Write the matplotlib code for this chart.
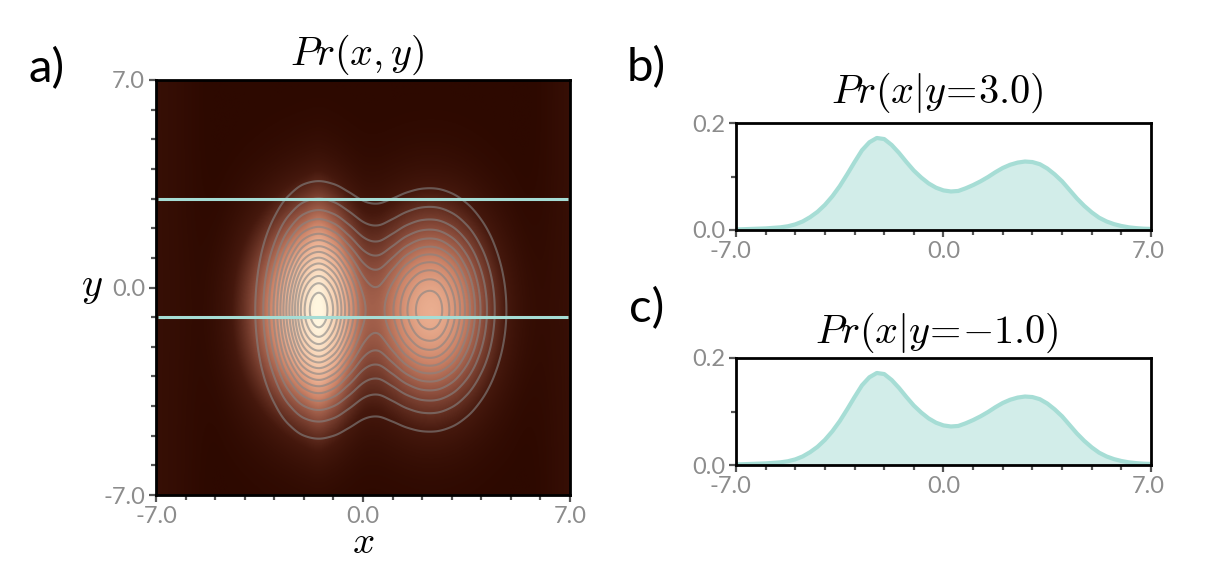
import numpy as np
import matplotlib
matplotlib.use("Agg")
import matplotlib.pyplot as plt
from matplotlib.colors import LinearSegmentedColormap
from matplotlib.transforms import ScaledTranslation

plt.rcParams["mathtext.fontset"] = "cm"
plt.rcParams["font.family"] = ["Lato", "DejaVu Sans"]

# sample positions of the panel a profiles, -7 to 7 in steps of 0.5
grid = [-7.0, -6.5, -6.0, -5.5, -5.0, -4.5, -4.0, -3.5, -3.0, -2.5, -2.0, -1.5, -1.0, -0.5, 0.0,
        0.5, 1.0, 1.5, 2.0, 2.5, 3.0, 3.5, 4.0, 4.5, 5.0, 5.5, 6.0, 6.5, 7.0]

left_x = [0, 0, 0, 0, 0.0006, 0.0043, 0.0235, 0.093, 0.269, 0.569, 0.881, 0.998, 0.86, 0.576, 0.301,
          0.122, 0.039, 0.0096, 0.0018, 0.0003, 0, 0, 0, 0, 0, 0, 0, 0, 0]
right_x = [0, 0, 0, 0, 0, 0, 0, 0, 0.0003, 0.0012, 0.0047, 0.0153, 0.043, 0.105, 0.22,
           0.398, 0.622, 0.84, 0.979, 0.98, 0.821, 0.571, 0.33, 0.158, 0.063, 0.021, 0.0058, 0.0013, 0.0002]
lobe_y = [0.0034, 0.0081, 0.018, 0.0375, 0.072, 0.13, 0.216, 0.334, 0.48, 0.643, 0.799, 0.923, 0.992, 0.99, 0.919,
          0.793, 0.636, 0.474, 0.329, 0.212, 0.127, 0.071, 0.0365, 0.0176, 0.0078, 0.0032, 0.0012, 0.0004, 0.0001]
left_height = 1.0
right_height = 0.75
contour_step = 0.064
contour_count = 15

# heat map
image_left_x = [0.0003, 0.002, 0.006, 0.015, 0.05, 0.11, 0.21, 0.34, 0.5, 0.68, 0.86, 1.0, 0.78, 0.46, 0.2,
                0.07, 0.02, 0.005, 0, 0, 0, 0, 0, 0, 0, 0, 0, 0, 0]
image_right_x = [0, 0, 0, 0, 0, 0.0005, 0.001, 0.002, 0.004, 0.007, 0.012, 0.032, 0.075, 0.155, 0.284,
                 0.462, 0.669, 0.859, 0.979, 0.99, 0.89, 0.71, 0.502, 0.316, 0.176, 0.087, 0.038, 0.015, 0.005]
image_y = [0.027, 0.046, 0.078, 0.125, 0.19, 0.275, 0.38, 0.503, 0.633, 0.761, 0.873, 0.955, 0.996, 0.99, 0.94,
           0.853, 0.737, 0.607, 0.477, 0.358, 0.256, 0.175, 0.114, 0.071, 0.042, 0.024, 0.013, 0.007, 0.003]
image_left_height = 1.0
image_right_height = 0.6
edge_glow = [0.05, 0.04, 0.025, 0.01, 0.0, 0, 0, 0, 0, 0, 0, 0, 0, 0, 0,
             0, 0, 0, 0, 0, 0, 0, 0, 0, 0, 0.0, 0.01, 0.03, 0.05]

# panels b and c
curve_x = [-7.0, -6.75, -6.5, -6.25, -6.0, -5.75, -5.5, -5.25, -5.0, -4.75, -4.5, -4.25, -4.0, -3.75, -3.5,
           -3.25, -3.0, -2.75, -2.5, -2.25, -2.0, -1.75, -1.5, -1.25, -1.0, -0.75, -0.5, -0.25, 0.0,
           0.25, 0.5, 0.75, 1.0, 1.25, 1.5, 1.75, 2.0, 2.25, 2.5, 2.75, 3.0, 3.25, 3.5, 3.75, 4.0,
           4.25, 4.5, 4.75, 5.0, 5.25, 5.5, 5.75, 6.0, 6.25, 6.5, 6.75, 7.0]
curve_b = [0.001, 0.0015, 0.002, 0.0025, 0.003, 0.004, 0.005, 0.007, 0.0105, 0.016, 0.024, 0.034, 0.047, 0.063, 0.082,
           0.104, 0.127, 0.149, 0.164, 0.172, 0.17, 0.159, 0.144, 0.127, 0.111, 0.098, 0.087, 0.079, 0.074,
           0.072, 0.073, 0.078, 0.084, 0.091, 0.099, 0.108, 0.116, 0.122, 0.126, 0.128, 0.127, 0.123, 0.115, 0.104, 0.091,
           0.075, 0.059, 0.045, 0.033, 0.023, 0.016, 0.011, 0.0075, 0.005, 0.0035, 0.0025, 0.002]
curve_c = [0.001, 0.0015, 0.002, 0.0025, 0.003, 0.004, 0.005, 0.007, 0.0105, 0.016, 0.024, 0.034, 0.047, 0.063, 0.082,
           0.104, 0.127, 0.149, 0.164, 0.172, 0.17, 0.159, 0.144, 0.127, 0.111, 0.098, 0.087, 0.079, 0.074,
           0.072, 0.073, 0.078, 0.084, 0.091, 0.099, 0.108, 0.116, 0.122, 0.126, 0.128, 0.127, 0.123, 0.115, 0.104, 0.091,
           0.075, 0.059, 0.045, 0.033, 0.023, 0.016, 0.011, 0.0075, 0.005, 0.0035, 0.0025, 0.002]

slices = [3.0, -1.0]
tick_labels = ["-7.0", "0.0", "7.0"]
tick_pos = [-7, 0, 7]
minor_pos = [-6, -5, -4, -3, -2, -1, 1, 2, 3, 4, 5, 6]

TEAL = "#a6ddd5"
GRAY = "#8c8c8c"
W, H = 1214, 572


def smooth(values, fine):
    # cubic hermite through the sampled profile, only to avoid a blocky image
    xs = np.array(grid)
    ys = np.array(values, dtype=float)
    m = np.gradient(ys, xs)
    i = np.clip(np.searchsorted(xs, fine) - 1, 0, len(xs) - 2)
    h = xs[i + 1] - xs[i]
    t = (fine - xs[i]) / h
    return ((2*t**3 - 3*t**2 + 1) * ys[i] + (t**3 - 2*t**2 + t) * h * m[i]
            + (-2*t**3 + 3*t**2) * ys[i + 1] + (t**3 - t**2) * h * m[i + 1])


def make_axes(left, top, right, bottom):
    return fig.add_axes([left / W, 1 - bottom / H, (right - left) / W, (bottom - top) / H])


def style_axes(ax):
    for s in ax.spines.values():
        s.set_linewidth(2.0)
        s.set_color("black")
    ax.set_xlim(-7, 7)
    ax.set_xticks(tick_pos)
    ax.set_xticklabels(tick_labels)
    ax.set_xticks(minor_pos, minor=True)
    ax.tick_params(which="major", length=5, width=1.6, color="#555555", labelcolor=GRAY, labelsize=17, pad=3)
    ax.tick_params(which="minor", length=3.5, width=1.6, color="#555555")


fig = plt.figure(figsize=(W / 100, H / 100), dpi=100)

# panel a
fine = np.linspace(-7, 7, 421)
cmap = LinearSegmentedColormap.from_list("skin", [
    (0.0, "#2d0900"), (0.12, "#45180d"), (0.28, "#8a4c3b"), (0.45, "#cd8468"),
    (0.6, "#eaae90"), (0.8, "#f8d2b4"), (1.0, "#fff6df")])

lx, rx = smooth(left_x, fine), smooth(right_x, fine)
ly = smooth(lobe_y, fine)
field = np.outer(ly, left_height * lx + right_height * rx)

iy = smooth(image_y, fine)
ilx, irx = smooth(image_left_x, fine), smooth(image_right_x, fine)
picture = np.outer(iy, image_left_height * ilx + image_right_height * irx) + smooth(edge_glow, fine)[None, :]

ax = make_axes(156, 80, 570, 495)
ax.imshow(picture, extent=[-7, 7, -7, 7], origin="lower", cmap=cmap, vmin=0, vmax=1,
          aspect="auto", interpolation="bilinear")
ax.contour(fine, fine, field, levels=[contour_step * k for k in range(1, contour_count + 1)],
           colors="#858585", linewidths=1.5, alpha=0.6)
for s in slices:
    ax.plot([-6.93, 6.93], [s, s], color=TEAL, lw=2.2, solid_capstyle="butt")
ax.set_ylim(-7, 7)
ax.set_yticks(tick_pos)
ax.set_yticklabels(tick_labels)
ax.set_yticks(minor_pos, minor=True)
style_axes(ax)

# panels b and c
for top, bottom, curve in [(123, 230, curve_b), (358, 465, curve_c)]:
    bx = make_axes(736, top, 1151, bottom)
    bx.fill_between(curve_x, 0, curve, color=TEAL, alpha=0.5, lw=0)
    bx.plot(curve_x, curve, color=TEAL, lw=3, solid_joinstyle="round")
    bx.set_ylim(0, 0.2)
    bx.set_yticks([0, 0.2])
    bx.set_yticklabels(["0.0", "0.2"])
    bx.set_yticks([0.1], minor=True)
    style_axes(bx)
    # end labels sit a little to the left of their ticks here
    for lab, dx in zip(bx.get_xticklabels(), [-6, 0, -3]):
        lab.set_transform(lab.get_transform() + ScaledTranslation(dx / 100, 0, fig.dpi_scale_trans))

# titles and loose labels, placed by pixel
for px, py, label in [(357, 65, r"$Pr(x,y)$"), (937, 103, r"$Pr(x|y\!=\!3.0)$"), (937, 343, r"$Pr(x|y\!=\!{-}1.0)$")]:
    fig.text(px / W, 1 - py / H, label, fontsize=29, ha="center", va="baseline")
fig.text(363 / W, 1 - 553 / H, r"$x$", fontsize=28, ha="center", va="baseline")
fig.text(92 / W, 1 - 287 / H, r"$y$", fontsize=29, ha="center", va="center")
fig.text(28 / W, 1 - 69 / H, "a)", fontsize=34, ha="left", va="center")
fig.text(627 / W, 1 - 68 / H, "b)", fontsize=34, ha="left", va="center")
fig.text(629 / W, 1 - 309 / H, "c)", fontsize=34, ha="left", va="center")

fig.savefig("out.png", dpi=100)
